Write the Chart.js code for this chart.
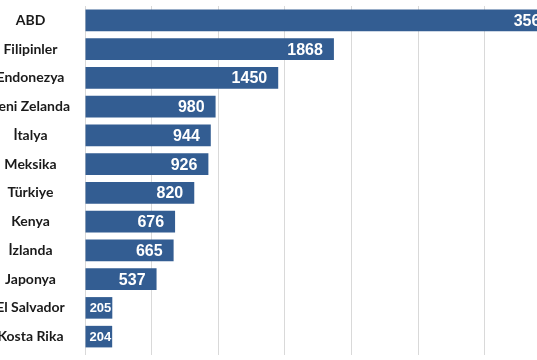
<!DOCTYPE html>
<html>
<head>
<meta charset="utf-8">
<script src="https://cdn.jsdelivr.net/npm/chart.js@4.4.0/dist/chart.umd.min.js"></script>
<style>
    html, body { margin: 0; padding: 0; background: #fff; overflow: hidden; }
    #wrap { position: absolute; left: -40px; top: 0; width: 658px; height: 360px; }
</style>
</head>
<body>
<div id="wrap"><canvas id="geoChart" width="658" height="360"></canvas></div>
<script>
const countries = ['ABD', 'Filipinler', 'Endonezya', 'Yeni Zelanda', 'İtalya', 'Meksika', 'Türkiye', 'Kenya', 'İzlanda', 'Japonya', 'El Salvador', 'Kosta Rika'];
const capacity = [3567, 1868, 1450, 980, 944, 926, 820, 676, 665, 537, 205, 204];
const axisMax = 4000;
const axisStep = 500;

const barColor = '#335d92';

// white numbers inside the bar ends
const valueLabels = {
    id: 'valueLabels',
    afterDatasetsDraw(chart) {
        const ctx = chart.ctx;
        const meta = chart.getDatasetMeta(0);
        ctx.save();
        ctx.fillStyle = '#ffffff';
        ctx.textAlign = 'right';
        ctx.textBaseline = 'middle';
        meta.data.forEach((bar, i) => {
            const w = bar.x - bar.base;
            let pad = 11;
            if (w < 40) {
                ctx.font = 'bold 13px "Liberation Sans", Arial, sans-serif';
                pad = 1;
            } else {
                ctx.font = 'bold 16px "Liberation Sans", Arial, sans-serif';
            }
            ctx.fillText(String(capacity[i]), bar.x - pad, bar.y + 1);
        });
        ctx.restore();
    }
};

const geoChart = new Chart(document.getElementById('geoChart'), {
    type: 'bar',
    data: {
        labels: countries,
        datasets: [{
            data: capacity,
            backgroundColor: barColor,
            borderWidth: 0,
            barPercentage: 0.75,
            categoryPercentage: 1.0
        }]
    },
    options: {
        indexAxis: 'y',
        responsive: false,
        animation: false,
        layout: { padding: { top: 6, bottom: 5, left: 0, right: 0 } },
        plugins: {
            legend: { display: false },
            tooltip: { enabled: false }
        },
        scales: {
            x: {
                min: 0,
                max: axisMax,
                ticks: { display: false, stepSize: axisStep },
                grid: { color: '#d9d9d9', lineWidth: 1, tickLength: 4 },
                border: { display: false }
            },
            y: {
                afterFit: (scale) => {
                    scale.width = 125;
                    scale.paddingTop = 0;
                    scale.paddingBottom = 0;
                },
                ticks: {
                    crossAlign: 'center',
                    padding: 15,
                    color: '#1a1a1a',
                    font: { family: 'Lato', weight: 'bold', size: 14 }
                },
                grid: { display: false, drawTicks: false, tickLength: 0 },
                border: { display: false }
            }
        }
    },
    plugins: [valueLabels]
});
</script>
</body>
</html>
